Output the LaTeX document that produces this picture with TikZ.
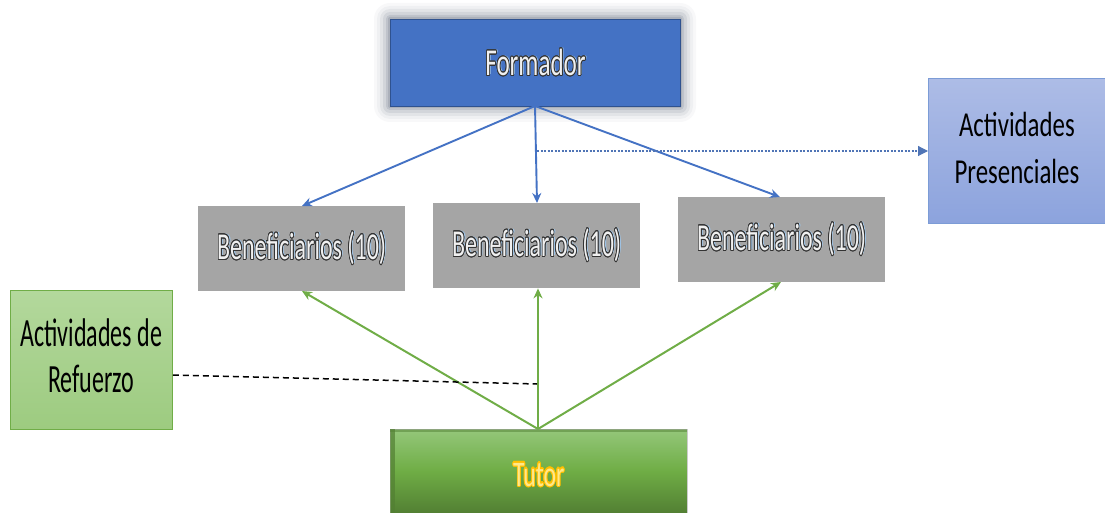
\documentclass[tikz,border=0pt]{standalone}
\usepackage{fontspec}
\setmainfont{Carlito}
\usepackage{contour}
\usetikzlibrary{arrows.meta}
\definecolor{fblue}{HTML}{4472C4}
\definecolor{fblueB}{HTML}{2F528F}
\definecolor{bgray}{HTML}{A5A5A5}
\definecolor{pblueT}{HTML}{ADBCE6}
\definecolor{pblueB}{HTML}{8CA3DD}
\definecolor{gline}{HTML}{70AD47}
\definecolor{rgreenT}{HTML}{B3D89C}
\definecolor{rgreenB}{HTML}{9DCB80}
\definecolor{tgreenT}{HTML}{94C77A}
\definecolor{tgreenM}{HTML}{6FAD45}
\definecolor{tgreenB}{HTML}{527F33}
\definecolor{tyellow}{HTML}{FFC000}
\definecolor{tpale}{HTML}{FFE88A}
\definecolor{lblue}{HTML}{4472C4}
\definecolor{shblue}{HTML}{9DC3E6}
\tikzset{
  boxbase/.style={rectangle, inner sep=0pt, anchor=north west},
  benef/.style={boxbase, fill=bgray, minimum width=207, minimum height=85},
  bluearrow/.style={draw=lblue, line width=1.9pt, -{Stealth[length=10pt,width=9pt]}},
  greenarrow/.style={draw=gline, line width=2pt, -{Stealth[length=10pt,width=9pt]}},
}
% condensed text: #1 = x-scale, #2 = text
\newcommand{\cond}[2]{\scalebox{#1}[1]{#2}}
% outlined light text
\newcommand{\lighttxt}[1]{\contourlength{1.1pt}\contour{black!80}{\textcolor{white!88!gray}{#1}}}
\begin{document}
\begin{tikzpicture}[x=1pt,y=-1pt]
\useasboundingbox (0,0) rectangle (1105,513);
% glow around Formador
\foreach \d/\o in {16/0.05,13/0.07,10/0.1,7/0.14,4/0.2,2/0.28}{
  \fill[gray!80!fblue, opacity=\o, rounded corners=\d] (390-\d,19-\d) rectangle (680+\d,106+\d);
}
\node[boxbase, fill=fblue, draw=fblueB, line width=1pt, minimum width=290, minimum height=87] (form) at (390,19) {};
\node[font=\fontsize{38}{40}\selectfont, text=shblue] at ([shift={(1.5,-1.5)}]form.center) {\cond{0.66}{Formador}};
\node[font=\fontsize{38}{40}\selectfont] at (form.center) {\cond{0.66}{\lighttxt{Formador}}};
% Actividades Presenciales
\node[boxbase, top color=pblueT, bottom color=pblueB, draw=fblue!70, line width=0.8pt, minimum width=177, minimum height=145] (pres) at (928,78) {};
\node[font=\fontsize{35}{47}\selectfont, text=black, inner sep=0pt] at (pres.center) {\cond{0.71}{\begin{tabular}{@{}c@{}}Actividades\\Presenciales\end{tabular}}};
% Beneficiarios
\node[benef] (b1) at (198,206) {};
\node[benef] (b2) at (433,203) {};
\node[benef] (b3) at (678,197) {};
\foreach \b in {b1,b2,b3}{
  \node[font=\fontsize{38}{40}\selectfont, text=shblue] at ([shift={(1.8,-1.8)}]\b.center) {\cond{0.63}{Beneficiarios (10)}};
  \node[font=\fontsize{38}{40}\selectfont] at (\b.center) {\cond{0.63}{\lighttxt{Beneficiarios (10)}}};
}
% Actividades de Refuerzo
\node[boxbase, top color=rgreenT, bottom color=rgreenB, draw=gline, line width=0.8pt, minimum width=162, minimum height=139] (ref) at (10,290) {};
\node[font=\fontsize{40}{46}\selectfont, text=black, inner sep=0pt] at (ref.center) {\cond{0.6}{\begin{tabular}{@{}c@{}}Actividades de\\Refuerzo\end{tabular}}};
% Tutor
\node[boxbase, minimum width=297, minimum height=84, top color=tgreenT, bottom color=tgreenB, middle color=tgreenM, draw=gray!40, line width=0.5pt] (tut) at (390,429) {};
\fill[tgreenB, opacity=0.7] (390,429) rectangle (395,513);
\fill[tgreenB, opacity=0.5] (390,429) rectangle (687,432);
\node[font=\fontsize{36}{40}\selectfont] at ([yshift=-4pt]tut.center) {\cond{0.66}{\contourlength{1.3pt}\contour{tyellow}{\textcolor{tpale}{Tutor}}}};
% coordinates
\coordinate (fb) at (535,106);
\coordinate (tt) at (538,429);
\coordinate (dotS) at (537,151);
\coordinate (dashE) at (537,384);
% blue connectors
\draw[bluearrow] (fb) -- (302,206);
\draw[bluearrow] (fb) -- (537,203);
\draw[bluearrow] (fb) -- (780,197);
\draw[draw=lblue!80!gray, line width=1.1pt, dash pattern=on 2pt off 1.5pt, -{Triangle[length=10pt,width=10pt]}] (dotS) -- (pres.west |- dotS);
% green connectors
\draw[greenarrow] (tt) -- (302,291);
\draw[greenarrow] (tt) -- (tt |- b2.south);
\draw[greenarrow] (tt) -- (781,282);
% dashed
\draw[black, line width=1.5pt, dash pattern=on 6pt off 4pt] (ref.east |- 0,375) -- (dashE);
\end{tikzpicture}
\end{document}
